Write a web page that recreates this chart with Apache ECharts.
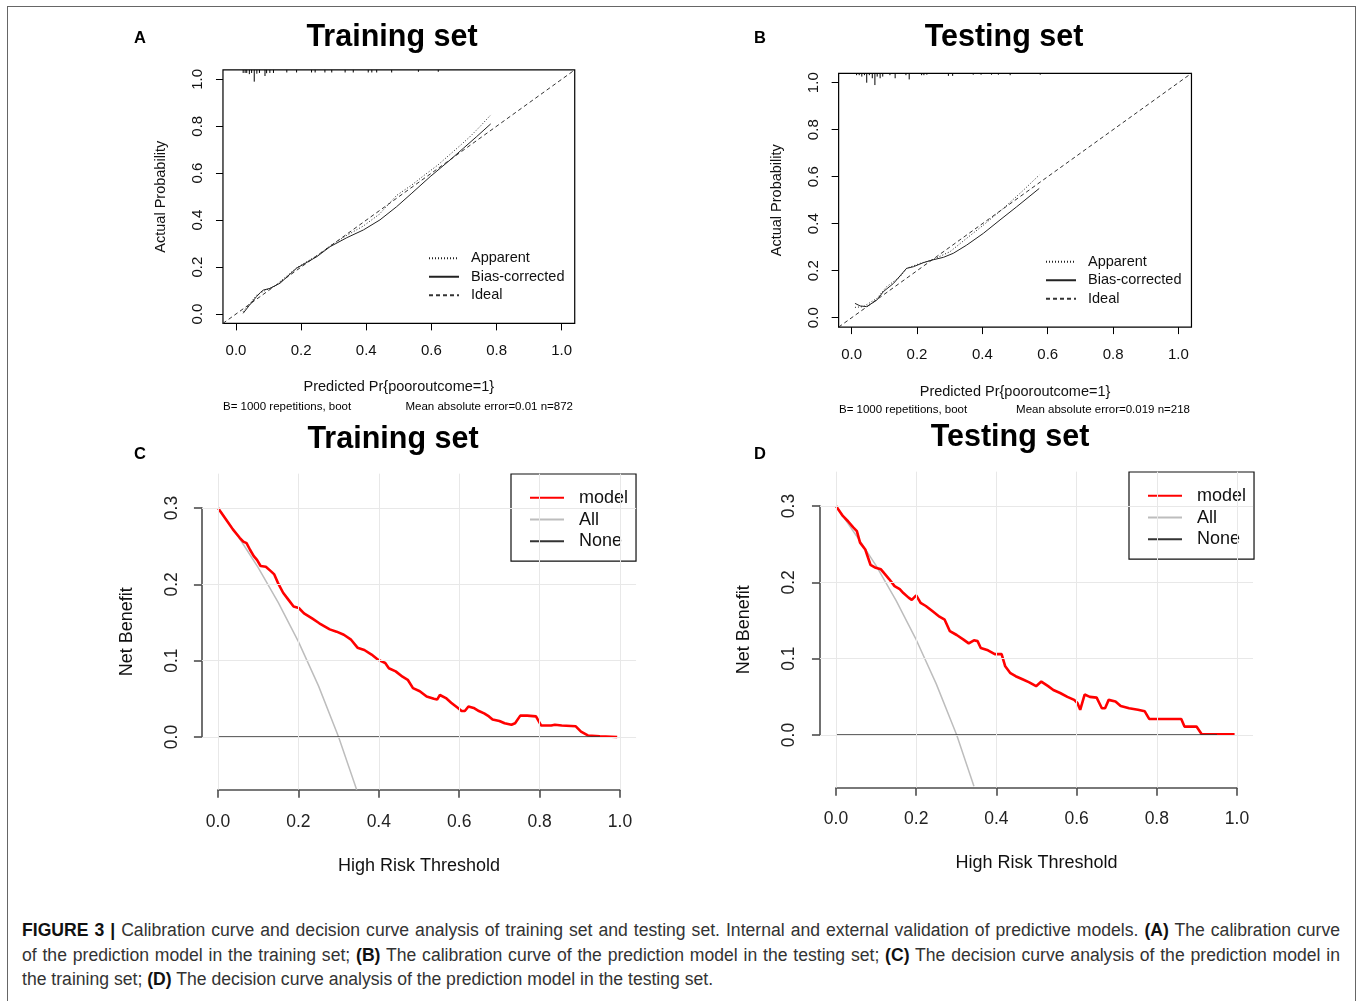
<!DOCTYPE html>
<html>
<head>
<meta charset="utf-8">
<script src="https://cdn.jsdelivr.net/npm/echarts@6/dist/echarts.min.js"></script>
<style>
  html, body { margin: 0; padding: 0; background: #fff; }
  #wrap { position: relative; width: 1363px; height: 1001px; overflow: hidden; }
  #frame { position: absolute; left: 7px; top: 6px; width: 1349px; height: 1100px; border: 1.5px solid #666; box-sizing: border-box; }
  #chart { position: absolute; left: 0; top: 0; width: 1363px; height: 905px; }
  #caption { position: absolute; left: 22px; top: 918px; width: 1318px; font-family: "Liberation Sans", Arial, sans-serif; font-size: 17.6px; line-height: 24.5px; color: #333; }
  #caption div { white-space: nowrap; text-align: justify; text-align-last: justify; }
  #caption div.last { text-align-last: left; }
  #caption b { color: #111; }
</style>
</head>
<body>
<div id="wrap">
  <div id="frame"></div>
  <div id="chart"></div>
  <div id="caption">
    <div><b>FIGURE 3 |</b> Calibration curve and decision curve analysis of training set and testing set. Internal and external validation of predictive models. <b>(A)</b> The calibration curve</div>
    <div>of the prediction model in the training set; <b>(B)</b> The calibration curve of the prediction model in the testing set; <b>(C)</b> The decision curve analysis of the prediction model in</div>
    <div class="last">the training set; <b>(D)</b> The decision curve analysis of the prediction model in the testing set.</div>
  </div>
</div>
<script>
// tick values
const probTicks = [0, 0.2, 0.4, 0.6, 0.8, 1.0];
const thrTicks = [0, 0.2, 0.4, 0.6, 0.8, 1.0];
const nbTicks = [0, 0.1, 0.2, 0.3];

// A: calibration, training set  [predicted, actual]
const trainApparent = [[0.022,0.01],[0.04,0.04],[0.063,0.08],[0.084,0.096],[0.12,0.12],[0.186,0.197],[0.25,0.25],[0.289,0.29],[0.34,0.335],[0.391,0.375],[0.44,0.425],[0.493,0.505],[0.54,0.55],[0.575,0.588],[0.62,0.635],[0.657,0.68],[0.69,0.72],[0.718,0.755],[0.75,0.8],[0.782,0.848]];
const trainBias = [[0.022,0.003],[0.04,0.035],[0.063,0.074],[0.075,0.092],[0.084,0.102],[0.104,0.109],[0.135,0.131],[0.186,0.195],[0.248,0.244],[0.289,0.287],[0.34,0.325],[0.391,0.358],[0.442,0.401],[0.493,0.457],[0.54,0.515],[0.596,0.585],[0.657,0.656],[0.698,0.706],[0.739,0.756],[0.782,0.81]];
const trainRug = [[0.022,0.013],[0.028,0.013],[0.033,0.013],[0.041,0.018],[0.048,0.013],[0.056,0.05],[0.064,0.016],[0.072,0.013],[0.089,0.026],[0.094,0.014],[0.104,0.013],[0.115,0.013],[0.156,0.011],[0.186,0.011],[0.232,0.011],[0.243,0.011],[0.273,0.011],[0.294,0.011],[0.335,0.011],[0.36,0.011],[0.406,0.011],[0.417,0.011],[0.432,0.011],[0.478,0.011],[0.56,0.008],[0.621,0.008]];

// B: calibration, testing set
const testApparent = [[0.01,0.044],[0.036,0.047],[0.077,0.082],[0.107,0.132],[0.148,0.174],[0.168,0.21],[0.209,0.231],[0.245,0.245],[0.301,0.281],[0.352,0.338],[0.403,0.394],[0.464,0.465],[0.526,0.543],[0.574,0.607]];
const testBias = [[0.01,0.061],[0.026,0.05],[0.046,0.047],[0.077,0.075],[0.097,0.111],[0.128,0.146],[0.168,0.21],[0.189,0.217],[0.219,0.234],[0.245,0.245],[0.281,0.257],[0.311,0.274],[0.352,0.309],[0.403,0.359],[0.454,0.416],[0.505,0.472],[0.574,0.55]];
const testRug = [[0.015,0.008],[0.023,0.008],[0.031,0.014],[0.039,0.008],[0.046,0.04],[0.054,0.008],[0.063,0.021],[0.071,0.05],[0.078,0.014],[0.087,0.021],[0.095,0.014],[0.117,0.008],[0.133,0.021],[0.166,0.008],[0.176,0.026],[0.214,0.008],[0.221,0.008],[0.23,0.006],[0.296,0.011],[0.309,0.011],[0.372,0.006],[0.396,0.006],[0.428,0.006],[0.449,0.006],[0.485,0.008],[0.577,0.006]];

const idealLine = [[-0.04,-0.04],[1.04,1.04]];

// C: decision curve, training set  [threshold, net benefit]
const trainModel = [[0,0.3],[0.02,0.285],[0.037,0.272],[0.054,0.261],[0.063,0.256],[0.071,0.254],[0.08,0.245],[0.089,0.237],[0.097,0.232],[0.106,0.224],[0.119,0.223],[0.132,0.217],[0.14,0.213],[0.149,0.202],[0.162,0.189],[0.175,0.18],[0.188,0.171],[0.201,0.169],[0.214,0.162],[0.235,0.155],[0.252,0.149],[0.265,0.145],[0.278,0.141],[0.295,0.138],[0.313,0.134],[0.33,0.128],[0.347,0.117],[0.364,0.114],[0.382,0.108],[0.399,0.101],[0.416,0.097],[0.425,0.09],[0.442,0.086],[0.459,0.079],[0.472,0.075],[0.485,0.064],[0.502,0.06],[0.519,0.053],[0.537,0.05],[0.545,0.049],[0.552,0.055],[0.567,0.051],[0.58,0.045],[0.597,0.038],[0.606,0.034],[0.614,0.034],[0.623,0.04],[0.636,0.038],[0.649,0.034],[0.662,0.031],[0.674,0.027],[0.683,0.023],[0.7,0.021],[0.713,0.018],[0.73,0.016],[0.739,0.018],[0.752,0.028],[0.769,0.028],[0.791,0.027],[0.804,0.015],[0.829,0.015],[0.838,0.016],[0.855,0.015],[0.89,0.014],[0.903,0.007],[0.92,0.002],[0.95,0.001],[0.993,0]];
const trainAll = [[0,0.3],[0.05,0.263],[0.1,0.222],[0.15,0.176],[0.2,0.125],[0.25,0.067],[0.3,0],[0.345,-0.069]];
const trainNone = [[0,0],[0.95,0]];

// D: decision curve, testing set
const testModel = [[0,0.3],[0.017,0.287],[0.03,0.28],[0.043,0.272],[0.052,0.267],[0.06,0.252],[0.073,0.243],[0.086,0.223],[0.099,0.219],[0.112,0.217],[0.12,0.212],[0.133,0.204],[0.146,0.195],[0.159,0.191],[0.168,0.186],[0.181,0.18],[0.189,0.177],[0.2,0.183],[0.211,0.173],[0.224,0.169],[0.241,0.162],[0.258,0.155],[0.271,0.151],[0.284,0.136],[0.301,0.131],[0.318,0.125],[0.331,0.12],[0.344,0.124],[0.353,0.123],[0.361,0.114],[0.379,0.111],[0.396,0.106],[0.413,0.106],[0.422,0.09],[0.435,0.081],[0.448,0.077],[0.465,0.073],[0.482,0.069],[0.499,0.064],[0.512,0.07],[0.529,0.064],[0.542,0.059],[0.559,0.055],[0.577,0.05],[0.594,0.046],[0.602,0.042],[0.609,0.033],[0.62,0.053],[0.633,0.05],[0.65,0.049],[0.663,0.035],[0.671,0.035],[0.68,0.046],[0.697,0.044],[0.71,0.038],[0.731,0.035],[0.753,0.033],[0.77,0.031],[0.781,0.021],[0.809,0.021],[0.861,0.021],[0.869,0.011],[0.899,0.011],[0.912,0.001],[0.994,0.001]];
const testAll = [[0,0.3],[0.06,0.254],[0.1,0.222],[0.15,0.176],[0.198,0.127],[0.25,0.067],[0.301,0],[0.344,-0.067]];
const testNone = [[0,0],[0.95,0]];

const FONT = '"Liberation Sans", Arial, Helvetica, sans-serif';

let chart = echarts.init(document.getElementById('chart'), null, { renderer: 'canvas' });

let grids = [], xAxes = [], yAxes = [], series = [];

// one panel = data grid (plot region) + grid for x ticks + grid for y ticks
function addPanel(p) {
    let g = grids.length;
    let left = p.x0 + p.xlim[0] * p.xu, width = (p.xlim[1] - p.xlim[0]) * p.xu;
    let top = p.y0 - p.ylim[1] * p.yu, height = (p.ylim[1] - p.ylim[0]) * p.yu;
    let xt = p.xTicks, yt = p.yTicks;
    let xMax = xt[xt.length - 1], yMax = yt[yt.length - 1];
    let tickLine = { color: p.axisColor, width: p.axisWidth };
    let fmt = v => v.toFixed(1);

    grids.push({ left: left, top: top, width: width, height: height, show: p.box,
        borderColor: '#000', borderWidth: 1.2, backgroundColor: 'transparent',
        containLabel: false, outerBoundsMode: 'none' });
    xAxes.push({ gridIndex: g, type: 'value', min: p.xlim[0], max: p.xlim[1],
        name: p.xName, nameLocation: 'middle', nameGap: p.xNameGap,
        nameTextStyle: { fontFamily: FONT, fontSize: p.nameSize, color: '#111' },
        axisLine: { show: false }, axisTick: { show: false }, axisLabel: { show: false }, splitLine: { show: false } });
    yAxes.push({ gridIndex: g, type: 'value', min: p.ylim[0], max: p.ylim[1],
        name: p.yName, nameLocation: 'middle', nameRotate: 90, nameGap: p.yNameGap,
        nameTextStyle: { fontFamily: FONT, fontSize: p.nameSize, color: '#111' },
        axisLine: { show: false }, axisTick: { show: false }, axisLabel: { show: false }, splitLine: { show: false } });

    grids.push({ left: p.x0, width: xMax * p.xu, top: top, height: height, containLabel: false, outerBoundsMode: 'none' });
    xAxes.push({ gridIndex: g + 1, type: 'value', position: 'bottom', min: xt[0], max: xMax, interval: xt[1] - xt[0],
        axisLine: { show: !p.box, lineStyle: tickLine },
        axisTick: { show: true, inside: false, length: p.tickLen, lineStyle: tickLine },
        axisLabel: { show: true, margin: p.xLabelMargin, fontFamily: FONT, fontSize: p.tickSize, color: p.labelColor,
            formatter: fmt, showMinLabel: true, showMaxLabel: true },
        splitLine: { show: false } });
    yAxes.push({ gridIndex: g + 1, type: 'value', show: false, min: 0, max: 1 });

    grids.push({ left: left, width: width, top: p.y0 - yMax * p.yu, height: yMax * p.yu, containLabel: false, outerBoundsMode: 'none' });
    xAxes.push({ gridIndex: g + 2, type: 'value', show: false, min: 0, max: 1 });
    yAxes.push({ gridIndex: g + 2, type: 'value', position: 'left', min: yt[0], max: yMax, interval: yt[1] - yt[0],
        axisLine: { show: !p.box, lineStyle: tickLine },
        axisTick: { show: true, inside: false, length: p.tickLen, lineStyle: tickLine },
        axisLabel: { show: true, rotate: 90, margin: p.yLabelMargin, fontFamily: FONT, fontSize: p.tickSize, color: p.labelColor,
            formatter: fmt, showMinLabel: true, showMaxLabel: true },
        splitLine: { show: false } });
    return g;
}

function calibPanel(p, apparent, bias, rug) {
    let g = addPanel(Object.assign({
        xlim: [-0.04, 1.04], ylim: [-0.04, 1.04], xTicks: probTicks, yTicks: probTicks, box: true,
        axisColor: '#000', axisWidth: 1, tickLen: 7, tickSize: 15, nameSize: 14.5, labelColor: '#111',
        xName: 'Predicted Pr{pooroutcome=1}', yName: 'Actual Probability',
        xNameGap: 56, yNameGap: 54, xLabelMargin: 20, yLabelMargin: 18
    }, p));
    let ytop = 1.04;
    series.push(
        { name: 'Ideal', type: 'line', xAxisIndex: g, yAxisIndex: g, data: idealLine, symbol: 'none', silent: true,
          itemStyle: { color: '#333' }, lineStyle: { color: '#333', width: 1, type: [4, 3] } },
        { name: 'Apparent', type: 'line', xAxisIndex: g, yAxisIndex: g, data: apparent, symbol: 'none', silent: true,
          itemStyle: { color: '#222' }, lineStyle: { color: '#222', width: 1, type: [1, 2] } },
        { name: 'Bias-corrected', type: 'line', xAxisIndex: g, yAxisIndex: g, data: bias, symbol: 'none', silent: true,
          itemStyle: { color: '#222' }, lineStyle: { color: '#222', width: 1, type: 'solid' } },
        { name: 'rug', type: 'custom', xAxisIndex: g, yAxisIndex: g, data: rug, silent: true,
          renderItem: function (params, api) {
              let a = api.coord([api.value(0), ytop]);
              let b = api.coord([api.value(0), ytop - api.value(1)]);
              return { type: 'line', shape: { x1: a[0], y1: a[1], x2: b[0], y2: b[1] }, style: { stroke: '#000', lineWidth: 1 } };
          } }
    );
}

function dcaPanel(p, model, all, none) {
    let g = addPanel(Object.assign({
        xlim: [-0.04, 1.04], ylim: [-0.069, 0.345], xTicks: thrTicks, yTicks: nbTicks, box: false,
        axisColor: '#4d4d4d', axisWidth: 1.6, tickLen: 8, tickSize: 17.5, nameSize: 18, labelColor: '#222',
        xName: 'High Risk Threshold', yName: 'Net Benefit'
    }, p));
    series.push(
        { name: 'grid', type: 'line', xAxisIndex: g, yAxisIndex: g, data: [], silent: true, z: 0,
          markLine: { silent: true, symbol: ['none', 'none'], label: { show: false }, animation: false,
              lineStyle: { color: '#e8e8e8', width: 1, type: 'solid' },
              data: thrTicks.map(v => ({ xAxis: v })).concat(nbTicks.map(v => ({ yAxis: v }))) } },
        { name: 'All', type: 'line', xAxisIndex: g, yAxisIndex: g, data: all, symbol: 'none', silent: true,
          itemStyle: { color: '#bdbdbd' }, lineStyle: { color: '#bdbdbd', width: 1.5 } },
        { name: 'model', type: 'line', xAxisIndex: g, yAxisIndex: g, data: model, symbol: 'none', silent: true,
          itemStyle: { color: '#ff0000' }, lineStyle: { color: '#ff0000', width: 2.6 } },
        { name: 'None', type: 'line', xAxisIndex: g, yAxisIndex: g, data: none, symbol: 'none', silent: true,
          itemStyle: { color: '#333' }, lineStyle: { color: '#333', width: 1.6 } }
    );
}

calibPanel({ x0: 236, xu: 325.7, y0: 314, yu: 234.7 }, trainApparent, trainBias, trainRug);
calibPanel({ x0: 851.7, xu: 326.7, y0: 317.7, yu: 235, yLabelMargin: 17.5, xNameGap: 57 }, testApparent, testBias, testRug);
dcaPanel({ x0: 218, xu: 402, y0: 737, yu: 763.3, xNameGap: 67, yNameGap: 66, xLabelMargin: 23.5, yLabelMargin: 21 }, trainModel, trainAll, trainNone);
dcaPanel({ x0: 836, xu: 401, y0: 735, yu: 763.3, xNameGap: 66, yNameGap: 67, xLabelMargin: 22.5, yLabelMargin: 22 }, testModel, testAll, testNone);

// legend text gets a spacer so the gap between line and text matches R
function legendText(gap, size, lh) {
    return { fontFamily: FONT, fontSize: size, color: '#111', lineHeight: lh,
        rich: { s: { width: gap, fontSize: size, lineHeight: lh } } };
}
function calibLegend(left, top) {
    return { data: ['Apparent', 'Bias-corrected', 'Ideal'], orient: 'vertical', left: left, top: top,
        padding: 0, itemGap: 0, itemWidth: 30, itemHeight: 10, selectedMode: false,
        itemStyle: { opacity: 0 }, formatter: name => '{s| }' + name,
        textStyle: legendText(7, 14.5, 18.5) };
}
function dcaLegend(left, top) {
    return { data: ['model', 'All', 'None'], orient: 'vertical', left: left, top: top,
        padding: [13, 8, 9, 18], itemGap: 0, itemWidth: 34, itemHeight: 10, selectedMode: false,
        borderColor: '#111', borderWidth: 1.2, borderRadius: 0, backgroundColor: '#fff',
        itemStyle: { opacity: 0 }, formatter: name => '{s| }' + name,
        textStyle: legendText(10, 18, 21.7) };
}

function label(text, x, y, size, weight) {
    return { type: 'text', x: x, y: y, silent: true,
        style: { text: text, fill: '#000', fontFamily: FONT, fontSize: size, fontWeight: weight || 'normal', align: 'center', verticalAlign: 'middle' } };
}
function note(text, x, y, align) {
    return { type: 'text', x: x, y: y, silent: true,
        style: { text: text, fill: '#000', fontFamily: FONT, fontSize: 11.5, align: align, verticalAlign: 'middle' } };
}

chart.setOption({
    animation: false,
    backgroundColor: 'transparent',
    grid: grids,
    xAxis: xAxes,
    yAxis: yAxes,
    legend: [calibLegend(428, 249), calibLegend(1045, 252.5), dcaLegend(511, 474), dcaLegend(1129, 472)],
    graphic: [
        label('A', 140, 38, 16.5, 'bold'), label('B', 760, 38, 16.5, 'bold'),
        label('C', 140, 454, 16.5, 'bold'), label('D', 760, 454, 16.5, 'bold'),
        label('Training set', 392, 38, 30.5, 'bold'), label('Testing set', 1004, 38, 30.5, 'bold'),
        label('Training set', 393, 440, 30.5, 'bold'), label('Testing set', 1010, 438, 30.5, 'bold'),
        note('B= 1000 repetitions, boot', 223, 406.7, 'left'),
        note('Mean absolute error=0.01 n=872', 573, 406.7, 'right'),
        note('B= 1000 repetitions, boot', 839, 410, 'left'),
        note('Mean absolute error=0.019 n=218', 1190, 410, 'right')
    ],
    series: series
});
</script>
</body>
</html>
